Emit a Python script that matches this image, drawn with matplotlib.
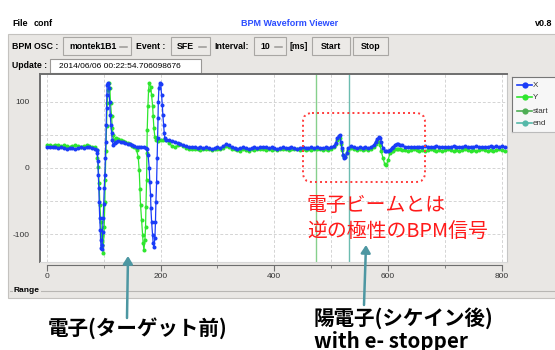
import matplotlib
matplotlib.use("Agg")
import matplotlib.pyplot as plt
from matplotlib.patches import Rectangle, FancyBboxPatch
from matplotlib.lines import Line2D

# X (blue) waveform: sample positions and values
x_head_pos = [0, 5, 10, 15, 20, 25, 30, 35, 40, 45, 50, 55, 60, 65, 70, 75, 80, 85,
              87.5, 89, 90, 90.5, 91.5, 92, 93, 94, 94.5, 95.5, 96.5, 97.3, 98, 99, 100, 101, 102,
              103, 103.8, 104.3, 105, 105.6, 106, 107, 108, 109, 110.3, 111.4, 112.6, 113.8, 115,
              116.6, 119, 122, 126, 130, 134, 138, 142, 146, 150, 154, 158, 162, 166, 170, 174,
              176, 178, 180, 181, 182.4, 183, 184.2, 186, 187, 188.2, 190, 191, 191.8, 193, 194,
              194.8, 195.5, 196, 197, 198.3, 200, 201.8, 203, 204, 205.3, 206.4, 207.6]
x_head_val = [31, 32, 31, 31, 30, 31, 30, 29, 30, 30, 29, 30, 31, 30, 31, 31, 30, 29,
              27, 22, 10, -11, -30, -51, -76, -94, -109, -121, -123, -117, -96, -76, -55, -30, -11,
              15, 40, 65, 91, 110, 126, 129, 127, 121, 100, 80, 65, 53, 42,
              35, 38, 40, 41, 40, 39, 38, 37, 36, 34, 33, 32, 31, 31, 31, 30,
              28, 20, 0, -21, -41, -61, -81, -101, -114, -119, -106, -81, -51, -21, 15,
              45, 75, 100, 121, 128, 127, 110, 95, 80, 65, 53, 45]

# Y (green) waveform
y_head_pos = [0, 5, 10, 15, 20, 25, 30, 35, 40, 45, 50, 55, 60, 65, 70, 75, 80, 85,
              87.4, 89, 90.3, 92, 93.2, 95, 96.2, 97.3, 99, 100.8, 102, 102.6, 103.8, 105, 106,
              107.8, 109, 110.8, 112, 113.8, 115, 116.6, 118.4, 122, 126, 130, 134, 138, 142, 146,
              150, 154, 157.8,
              160.6, 162.4, 163.6, 164.8, 166.6, 168.4, 169.4, 170.7, 172.4, 173.6, 174.2, 175.4,
              176, 176.5, 177.7, 178.9, 180, 182.4, 184.2, 186, 187, 188.2, 190, 191.8, 195.8, 200, 205]
y_head_val = [34, 34, 33, 35, 34, 33, 34, 33, 32, 33, 34, 33, 32, 33, 34, 33, 32, 31,
              27, 15, 2, -23, -56, -81, -101, -117, -128, -89, -51, -18, 25, 63, 98,
              118, 128, 121, 98, 78, 60, 50, 42, 45, 44, 43, 41, 40, 38, 36,
              33, 31, 27,
              17, -3, -31, -56, -79, -101, -114, -124, -109, -89, -59, -18,
              22, 58, 93, 118, 128, 123, 110, 93, 78, 60, 47, 42, 41, 42, 42]

# shared sample positions from 210 onwards
tail_pos = [210, 215, 220, 225, 230, 235, 240, 245, 250, 255,
            260, 265, 270, 275, 280, 285, 290, 295, 300, 305,
            310, 315, 320, 325, 330, 335, 340, 345, 350, 355,
            360, 365, 370, 375, 380, 385, 390, 395, 400, 405,
            410, 415, 420, 425, 430, 435, 440, 445, 450, 455,
            460, 465, 470, 475, 480, 485, 490, 495, 500,
            505, 508, 511, 513, 515, 517, 519, 521, 523, 525,
            527, 530, 535, 540, 545, 550, 555, 560, 565, 570,
            575, 578, 581, 584, 586, 588, 591, 594, 597, 600,
            603, 606, 609, 612, 615, 618, 621, 625,
            630, 635, 640, 645, 650, 655, 660, 665, 670, 675,
            680, 685, 690, 695, 700, 705, 710, 715, 720, 725,
            730, 735, 740, 745, 750, 755, 760, 765, 770, 775,
            780, 785, 790, 795, 800, 805]
x_tail_val = [42, 42, 41, 40, 38, 36, 34, 33, 32, 31,
              31, 30, 31, 30, 31, 30, 29, 30, 31, 30,
              33, 36, 35, 31, 30, 29, 30, 31, 30, 29,
              30, 31, 30, 31, 32, 31, 30, 31, 30, 29,
              30, 31, 30, 30, 31, 30, 29, 30, 31, 30,
              30, 31, 30, 31, 30, 30, 31, 30, 31,
              33, 38, 45, 49, 50, 40, 30, 20, 15, 16,
              22, 30, 33, 31, 30, 31, 30, 31, 30, 32,
              35, 40, 44, 47, 46, 40, 30, 26, 25, 26,
              27, 30, 32, 35, 37, 36, 35, 34,
              32, 31, 32, 31, 32, 31, 32, 33, 32, 31,
              32, 33, 32, 31, 32, 31, 32, 33, 32, 31,
              32, 33, 32, 31, 32, 33, 32, 31, 32, 32,
              33, 32, 33, 32, 33, 32]
y_tail_val = [42, 38, 33, 31, 34, 36, 33, 30, 29, 28,
              29, 28, 27, 28, 29, 28, 27, 28, 29, 28,
              30, 33, 32, 29, 28, 27, 26, 28, 27, 26,
              28, 27, 28, 29, 28, 27, 28, 27, 28, 27,
              28, 29, 28, 27, 28, 29, 28, 27, 28, 27,
              28, 27, 28, 29, 28, 27, 28, 27, 28,
              31, 36, 42, 45, 45, 36, 27, 19, 16, 17,
              22, 27, 30, 28, 27, 28, 27, 28, 27, 29,
              32, 37, 41, 40, 35, 25, 15, 6, 4, 12,
              22, 25, 26, 28, 29, 28, 28, 27,
              27, 26, 27, 28, 27, 26, 27, 26, 27, 28,
              27, 26, 27, 26, 27, 28, 27, 26, 27, 26,
              27, 28, 27, 26, 27, 26, 27, 28, 27, 26,
              27, 26, 27, 28, 27, 26]

start_pos = 473
end_pos = 532
x_ticks = [0, 200, 400, 600, 800]
y_ticks = [-100, 0, 100]

C_X = "#1a3cf8"
C_Y = "#2ee62e"
C_START = "#4fae55"
C_END = "#55b8a8"
PANEL = "#e9e7e4"
GUI = ["Liberation Sans", "DejaVu Sans"]
JP = ["Noto Sans CJK JP", "DejaVu Sans"]

W, H = 555, 350
fig = plt.figure(figsize=(W / 100, H / 100), dpi=100)
fig.patch.set_facecolor("white")

def box(px0, py0, px1, py1):
    return [px0 / W, 1 - py1 / H, (px1 - px0) / W, (py1 - py0) / H]

# background layer in pixel coordinates
bg = fig.add_axes([0, 0, 1, 1], zorder=0)
bg.set_xlim(0, W)
bg.set_ylim(H, 0)
bg.axis("off")

bg.text(12, 24, "File", fontsize=6.5, fontweight="bold", family=GUI, va="center")
bg.text(34, 24, "conf", fontsize=6.5, fontweight="bold", family=GUI, va="center")
bg.text(290, 24, "BPM Waveform Viewer", fontsize=6.5, fontweight="bold", family=GUI,
        color="#2a4cff", ha="center", va="center")
bg.text(552, 24, "v0.8", fontsize=6.5, fontweight="bold", family=GUI, ha="right", va="center")

bg.add_patch(Rectangle((8, 34), 560, 264, facecolor=PANEL, edgecolor="#c4c2bf", lw=0.8))

def combo(x0, x1, label):
    bg.add_patch(Rectangle((x0, 37), x1 - x0, 18, facecolor="#eceae7", edgecolor="#a9a7a4", lw=0.8))
    bg.text(x0 + 6, 46.5, label, fontsize=6.3, fontweight="bold", family=GUI, va="center")
    bg.plot([x1 - 11, x1 - 4], [47, 47], color="#9a9896", lw=1.1)

def button(x0, x1, label):
    bg.add_patch(Rectangle((x0, 37), x1 - x0, 18, facecolor="#eceae7", edgecolor="#a9a7a4", lw=0.8))
    bg.text((x0 + x1) / 2, 46.5, label, fontsize=6.3, fontweight="bold", family=GUI,
            ha="center", va="center")

bg.text(12, 46.5, "BPM OSC :", fontsize=6.3, fontweight="bold", family=GUI, va="center")
combo(63, 131, "montek1B1")
bg.text(136, 46.5, "Event :", fontsize=6.3, fontweight="bold", family=GUI, va="center")
combo(171, 210, "SFE")
bg.text(214, 46.5, "Interval:", fontsize=6.3, fontweight="bold", family=GUI, va="center")
combo(254, 286, "10")
bg.text(290, 46.5, "[ms]", fontsize=6.3, fontweight="bold", family=GUI, va="center")
button(312, 350, "Start")
button(353, 388, "Stop")

bg.text(12, 66, "Update :", fontsize=6.3, fontweight="bold", family=GUI, va="center")
bg.add_patch(Rectangle((50, 59), 151, 14, facecolor="white", edgecolor="#9a9896", lw=0.8))
bg.text(59, 66, "2014/06/06 00:22:54.706098676", fontsize=6, family=GUI, va="center")

# Range frame
bg.plot([10, 555], [291, 291], color="#b8b6b3", lw=0.8)
bg.text(14, 291, "Range", fontsize=6, fontweight="bold", family=GUI, va="center",
        bbox=dict(facecolor=PANEL, edgecolor="none", pad=0.8))

# waveform plot
ax = fig.add_axes(box(40, 74, 507, 262), zorder=2)
ax.set_facecolor("white")
ax.axvline(start_pos, color="#86d08c", lw=1, zorder=1)
ax.axvline(end_pos, color="#6cbcb0", lw=1, zorder=1)
ax.plot(y_head_pos + tail_pos, y_head_val + y_tail_val, "-o", color=C_Y, lw=0.9, ms=2.9,
        mew=0, zorder=3)
ax.plot(x_head_pos + tail_pos, x_head_val + x_tail_val, "-o", color=C_X, lw=0.9, ms=2.9,
        mew=0, zorder=4)
ax.set_xlim(-12, 809)
ax.set_ylim(-142, 142)
ax.set_xticks([0, 100, 200, 300, 400, 500, 600, 700, 800])
ax.set_yticks([-100, -50, 0, 50, 100])
ax.set_yticklabels(["-100", "", "0", "", "100"])
ax.tick_params(axis="x", length=0, labelbottom=False)
ax.tick_params(axis="y", length=0, pad=7.5, labelsize=6, labelcolor="#333333")
for lab in ax.get_yticklabels():
    lab.set_family(GUI)
ax.grid(color="#d4d4d4", ls=(0, (3, 2)), lw=0.7)
ax.set_axisbelow(True)
ax.spines["left"].set_color("#6e6e6e")
ax.spines["top"].set_color("#6e6e6e")
ax.spines["left"].set_linewidth(1.4)
ax.spines["top"].set_linewidth(1.4)
ax.spines["right"].set_color("#c6c6c6")
ax.spines["bottom"].set_color("#d8d8d8")

# separate bottom scale
axb = fig.add_axes([40 / W, 1 - 265 / H, 467 / W, 0.0001], zorder=2)
axb.set_xlim(-12, 809)
axb.patch.set_alpha(0)
for s in ["left", "right", "top"]:
    axb.spines[s].set_visible(False)
axb.spines["bottom"].set_color("#6e6e6e")
axb.spines["bottom"].set_bounds(0, 800)
axb.set_yticks([])
axb.set_xticks(x_ticks)
axb.set_xticklabels([str(t) for t in x_ticks])
axb.set_xticks([100, 300, 500, 700], minor=True)
axb.tick_params(axis="x", length=4, color="#6e6e6e", labelsize=6, labelcolor="#333333", pad=1.5)
axb.tick_params(axis="x", which="minor", length=2.5, color="#6e6e6e")
for lab in axb.get_xticklabels():
    lab.set_family(GUI)

# legend panel
lg = fig.add_axes(box(512, 77, 556, 132), zorder=2)
lg.set_xlim(0, 44)
lg.set_ylim(55, 0)
lg.set_xticks([])
lg.set_yticks([])
lg.set_facecolor("#f7f7f7")
lg.spines["left"].set_color("#777777")
lg.spines["top"].set_color("#777777")
lg.spines["right"].set_visible(False)
lg.spines["bottom"].set_color("#bbbbbb")
for ly, name, col in [(8, "X", C_X), (20, "Y", C_Y), (34, "start", C_START), (46, "end", C_END)]:
    lg.add_line(Line2D([5, 20], [ly, ly], color=col, lw=1.2))
    lg.add_line(Line2D([12.5], [ly], marker="o", color=col, ms=4.5, mew=0))
    lg.text(21, ly, name, fontsize=5.8, family=GUI, va="center", color="#333333")

# annotation layer
fg = fig.add_axes([0, 0, 1, 1], zorder=5)
fg.set_xlim(0, W)
fg.set_ylim(H, 0)
fg.axis("off")

fg.add_patch(FancyBboxPatch((303, 113), 122, 69, boxstyle="round,pad=0,rounding_size=9",
                            facecolor="none", edgecolor="#ff3b3b", lw=1.4, ls=(0, (1, 1.6))))
fg.text(307, 205, "電子ビームとは", fontsize=14.3, family=JP, color="#ff1a1a", va="center")
fg.text(307, 231, "逆の極性のBPM信号", fontsize=14.3, family=JP, color="#ff1a1a", va="center")

arrow = dict(arrowstyle="-|>,head_width=0.28,head_length=0.45", color="#4d97a2", lw=1.8,
             shrinkA=0, shrinkB=0)
fg.annotate("", xy=(128, 256), xytext=(127, 318), arrowprops=arrow)
fg.annotate("", xy=(366, 245), xytext=(364, 305), arrowprops=arrow)

fg.text(48, 328, "電子(ターゲット前)", fontsize=14.8, fontweight="bold", family=JP, va="center")
fg.text(314, 318, "陽電子(シケイン後)", fontsize=14.8, fontweight="bold", family=JP, va="center")
fg.text(314, 341, "with e- stopper", fontsize=14.8, fontweight="bold", family=JP, va="center")

fig.savefig("out.png", dpi=100)
